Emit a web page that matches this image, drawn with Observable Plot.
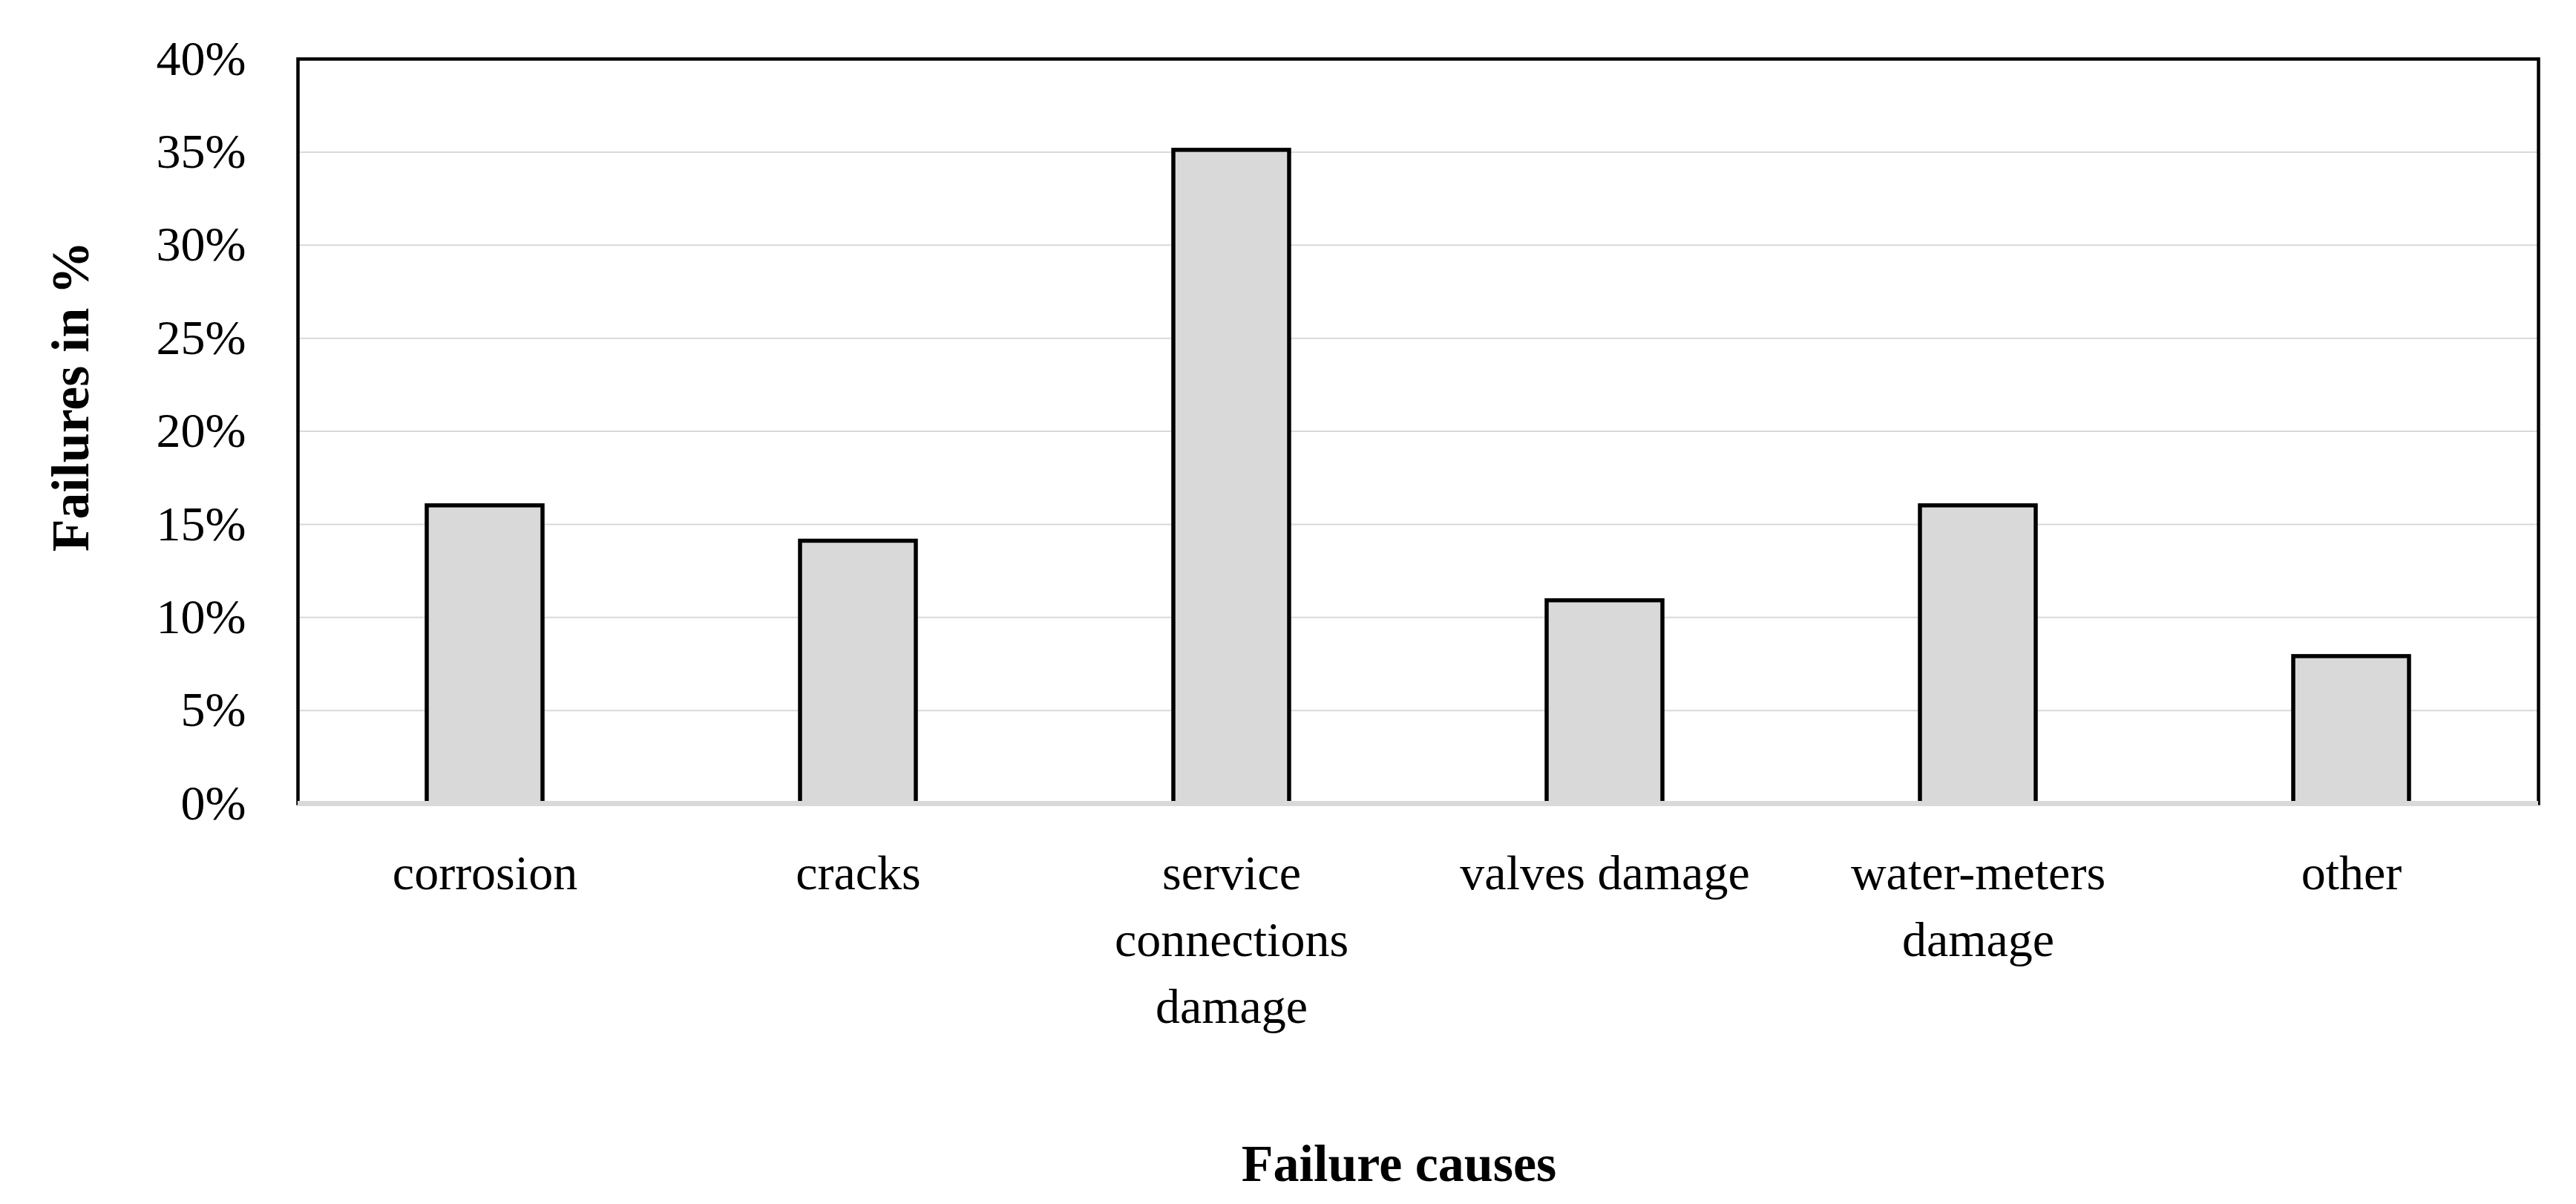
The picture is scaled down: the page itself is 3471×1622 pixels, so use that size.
<!DOCTYPE html>
<html>
<head>
<meta charset="utf-8">
<script src="https://cdn.jsdelivr.net/npm/d3@7"></script>
<script src="https://cdn.jsdelivr.net/npm/@observablehq/plot@0.6"></script>
<style>
  html, body { margin: 0; padding: 0; background: #ffffff; }
  #chart svg { display: block; }
</style>
</head>
<body>
<div id="chart"></div>
<script>
// ---- data ----
const categories = ["corrosion", "cracks", "service connections damage", "valves damage", "water-meters damage", "other"];
const tickLabels = ["corrosion", "cracks", "service\nconnections\ndamage", "valves damage", "water-meters\ndamage", "other"];
const failuresPct = [16.0, 14.1, 35.1, 10.9, 16.0, 7.9];
const yTicks = [0, 5, 10, 15, 20, 25, 30, 35, 40];
const xTitle = "Failure causes";
const yTitle = "Failures in %";

const data = categories.map((c, i) => ({cause: c, value: failuresPct[i]}));

const W = 3471, H = 1622;
const FONT = "'Liberation Serif', 'Times New Roman', serif";

const chart = Plot.plot({
  width: W,
  height: H,
  marginLeft: 401,
  marginRight: 51,
  marginTop: 79,
  marginBottom: 540,
  style: {fontFamily: FONT, fontSize: "66px", background: "#ffffff", color: "#000000"},
  x: {domain: categories, paddingInner: 0.69, paddingOuter: 0.345, label: null},
  y: {domain: [0, 40], label: null},
  marks: [
    Plot.ruleY(yTicks.filter(d => d > 0 && d < 40), {stroke: "#d9d9d9", strokeWidth: 2}),
    Plot.barY(data, {x: "cause", y: "value", fill: "#d9d9d9", stroke: "#000000", strokeWidth: 5.5}),
    Plot.frame({stroke: "#000000", strokeWidth: 4.5}),
    Plot.ruleY([0], {stroke: "#d9d9d9", strokeWidth: 7}),
    Plot.axisY({ticks: yTicks, tickSize: 0, tickPadding: 70, tickFormat: d => d + "%", label: null, fontSize: 66, fill: "#000000"}),
    Plot.axisX({tickSize: 0, tickPadding: 52, tickFormat: d => tickLabels[categories.indexOf(d)], lineHeight: 1.36, label: null, fontSize: 66, fill: "#000000"})
  ]
});

const svg = d3.select(chart);
svg.append("text")
  .attr("x", 1885).attr("y", 1591)
  .attr("text-anchor", "middle")
  .attr("font-family", FONT).attr("font-size", 70).attr("font-weight", "bold")
  .attr("fill", "#000000")
  .text(xTitle);
svg.append("text")
  .attr("transform", "translate(119,534) rotate(-90)")
  .attr("text-anchor", "middle")
  .attr("font-family", FONT).attr("font-size", 72).attr("font-weight", "bold")
  .attr("fill", "#000000")
  .text(yTitle);

document.getElementById("chart").appendChild(chart);
</script>
</body>
</html>
